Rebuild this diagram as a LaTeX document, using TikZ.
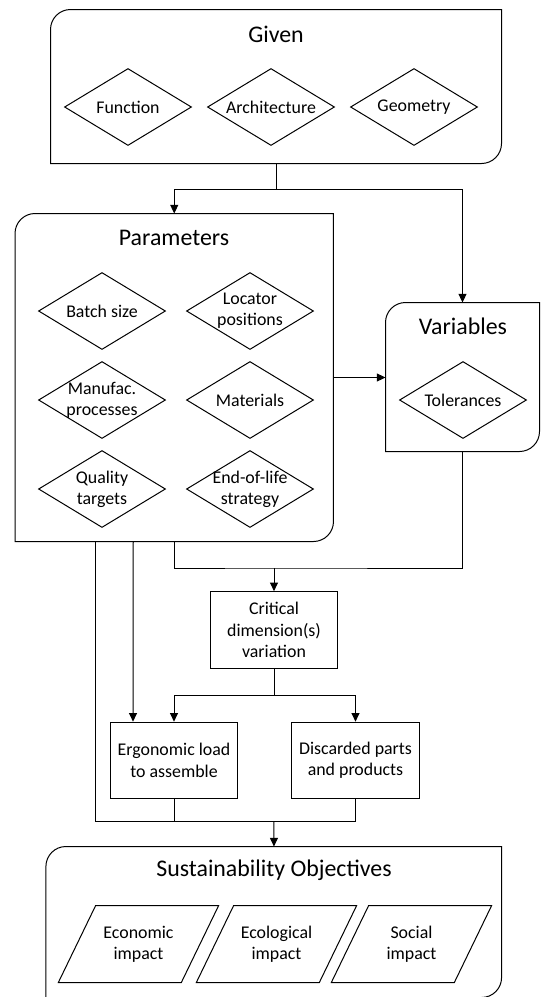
\documentclass[tikz,border=0pt]{standalone}
\usepackage{fontspec}
\setmainfont{Carlito}
\usepackage{tikz}
\usetikzlibrary{arrows.meta,shapes.geometric}

% frame with top-left and bottom-right corners rounded
\newcommand{\panelframe}[1]{\draw (#1.south west) -- ([yshift=-15pt]#1.north west) arc[start angle=180,end angle=90,radius=15pt] -- (#1.north east) -- ([yshift=15pt]#1.south east) arc[start angle=0,end angle=-90,radius=15pt] -- cycle;}
% slanted frame round an impact node
\newcommand{\slantframe}[1]{\draw ([xshift=-14pt]#1.south west) -- ([xshift=14pt]#1.north west) -- ([xshift=14pt]#1.north east) -- ([xshift=-14pt]#1.south east) -- cycle;}

\tikzset{
  panel/.style={inner sep=0pt},
  head/.style={font=\fontsize{17.9}{21}\selectfont, inner sep=0pt},
  choice/.style={diamond, draw, aspect=1.65, inner sep=-4pt, minimum width=95.25pt, minimum height=57.75pt, align=center, font=\fontsize{13.4}{16}\selectfont},
  block/.style={rectangle, draw, minimum width=95.5pt, minimum height=57.5pt, inner sep=2pt, align=center, font=\fontsize{13.4}{16}\selectfont},
  impact/.style={rectangle, minimum width=91.5pt, minimum height=57pt, inner sep=2pt, align=center, font=\fontsize{13.4}{16}\selectfont},
  flow/.style={-{Triangle[length=6.5pt,width=6pt]}}
}

\begin{document}
\begin{tikzpicture}[x=0.75pt, y=0.75pt, line width=0.75pt]
	\useasboundingbox (0,0) rectangle (540,-997);
	% given
	\node[panel, minimum width=337.5pt, minimum height=114.75pt] (given) at (276,-86.5) {};
	\panelframe{given}
	\node[head] (given-t) at (276,-34) {Given};
	\node[choice] (func) at (128,-107) {Function};
	\node[choice] (arch) at (271,-107) {Architecture};
	\node[choice] (geom) at (414,-107) {Geometry};%
	% parameters
	\node[panel, minimum width=238.1pt, minimum height=245.25pt] (params) at (174.25,-377.5) {};
	\panelframe{params}
	\node[head] (params-t) at (174,-238) {Parameters};
	\node[choice] (batch) at (102,-311) {Batch size};
	\node[choice] (locator) at (250,-311) {Locator\\positions};
	\node[choice] (manuf) at (102,-400) {Manufac.\\processes};
	\node[choice] (mat) at (250,-400) {Materials};
	\node[choice] (quality) at (102,-489) {Quality\\targets};
	\node[choice] (eol) at (250,-489) {End-of-life\\strategy};%
	% variables
	\node[panel, minimum width=114.75pt, minimum height=111pt] (vars) at (462.5,-377) {};
	\panelframe{vars}
	\node[head] (vars-t) at (463,-326) {Variables};
	\node[choice] (tol) at (463,-400) {Tolerances};%
	% outcomes
	\node[block] (crit) at (274,-630) {Critical\\dimension(s)\\variation};
	\node[block] (ergo) at (174,-760.5) {Ergonomic load\\to assemble};
	\node[block] (disc) at (355.5,-760.5) {Discarded parts\\and products};%
	% objectives
	\node[panel, minimum width=341pt, minimum height=112.5pt] (sust) at (273.75,-922) {};
	\panelframe{sust}
	\node[head] (sust-t) at (274,-870) {Sustainability Objectives};
	\node[impact] (econ) at (138.5,-944) {Economic\\impact};
	\node[impact] (eco) at (276.5,-944) {Ecological\\impact};
	\node[impact] (soc) at (411.5,-944) {Social\\impact};
	\slantframe{econ}
	\slantframe{eco}
	\slantframe{soc}%
	% connectors
	\coordinate (split1) at (276,-189);
	\coordinate (mid) at (274,-568);
	\coordinate (split2) at (274,-695);
	\coordinate (join) at (274,-821);
	\draw (given) -- (split1);
	\draw[flow] (split1) -| (params);
	\draw[flow] (split1) -| (vars);
	\draw[flow] (params.east) -- (params.east -| vars.west);
	\draw (params.south) |- (mid) -| (vars.south);
	\draw[flow] (mid) -- (crit);
	\draw[flow] ([xshift=-30.75pt]params.south) -- ([xshift=-30.75pt]ergo.north);
	\draw (crit) -- (split2);
	\draw[flow] (split2) -| (ergo);
	\draw[flow] (split2) -| (disc);
	\draw ([xshift=-59.25pt]params.south) |- (join);
	\draw (ergo) |- (join);
	\draw (disc) |- (join);
	\draw[flow] (join) -- (sust);
\end{tikzpicture}
\end{document}
